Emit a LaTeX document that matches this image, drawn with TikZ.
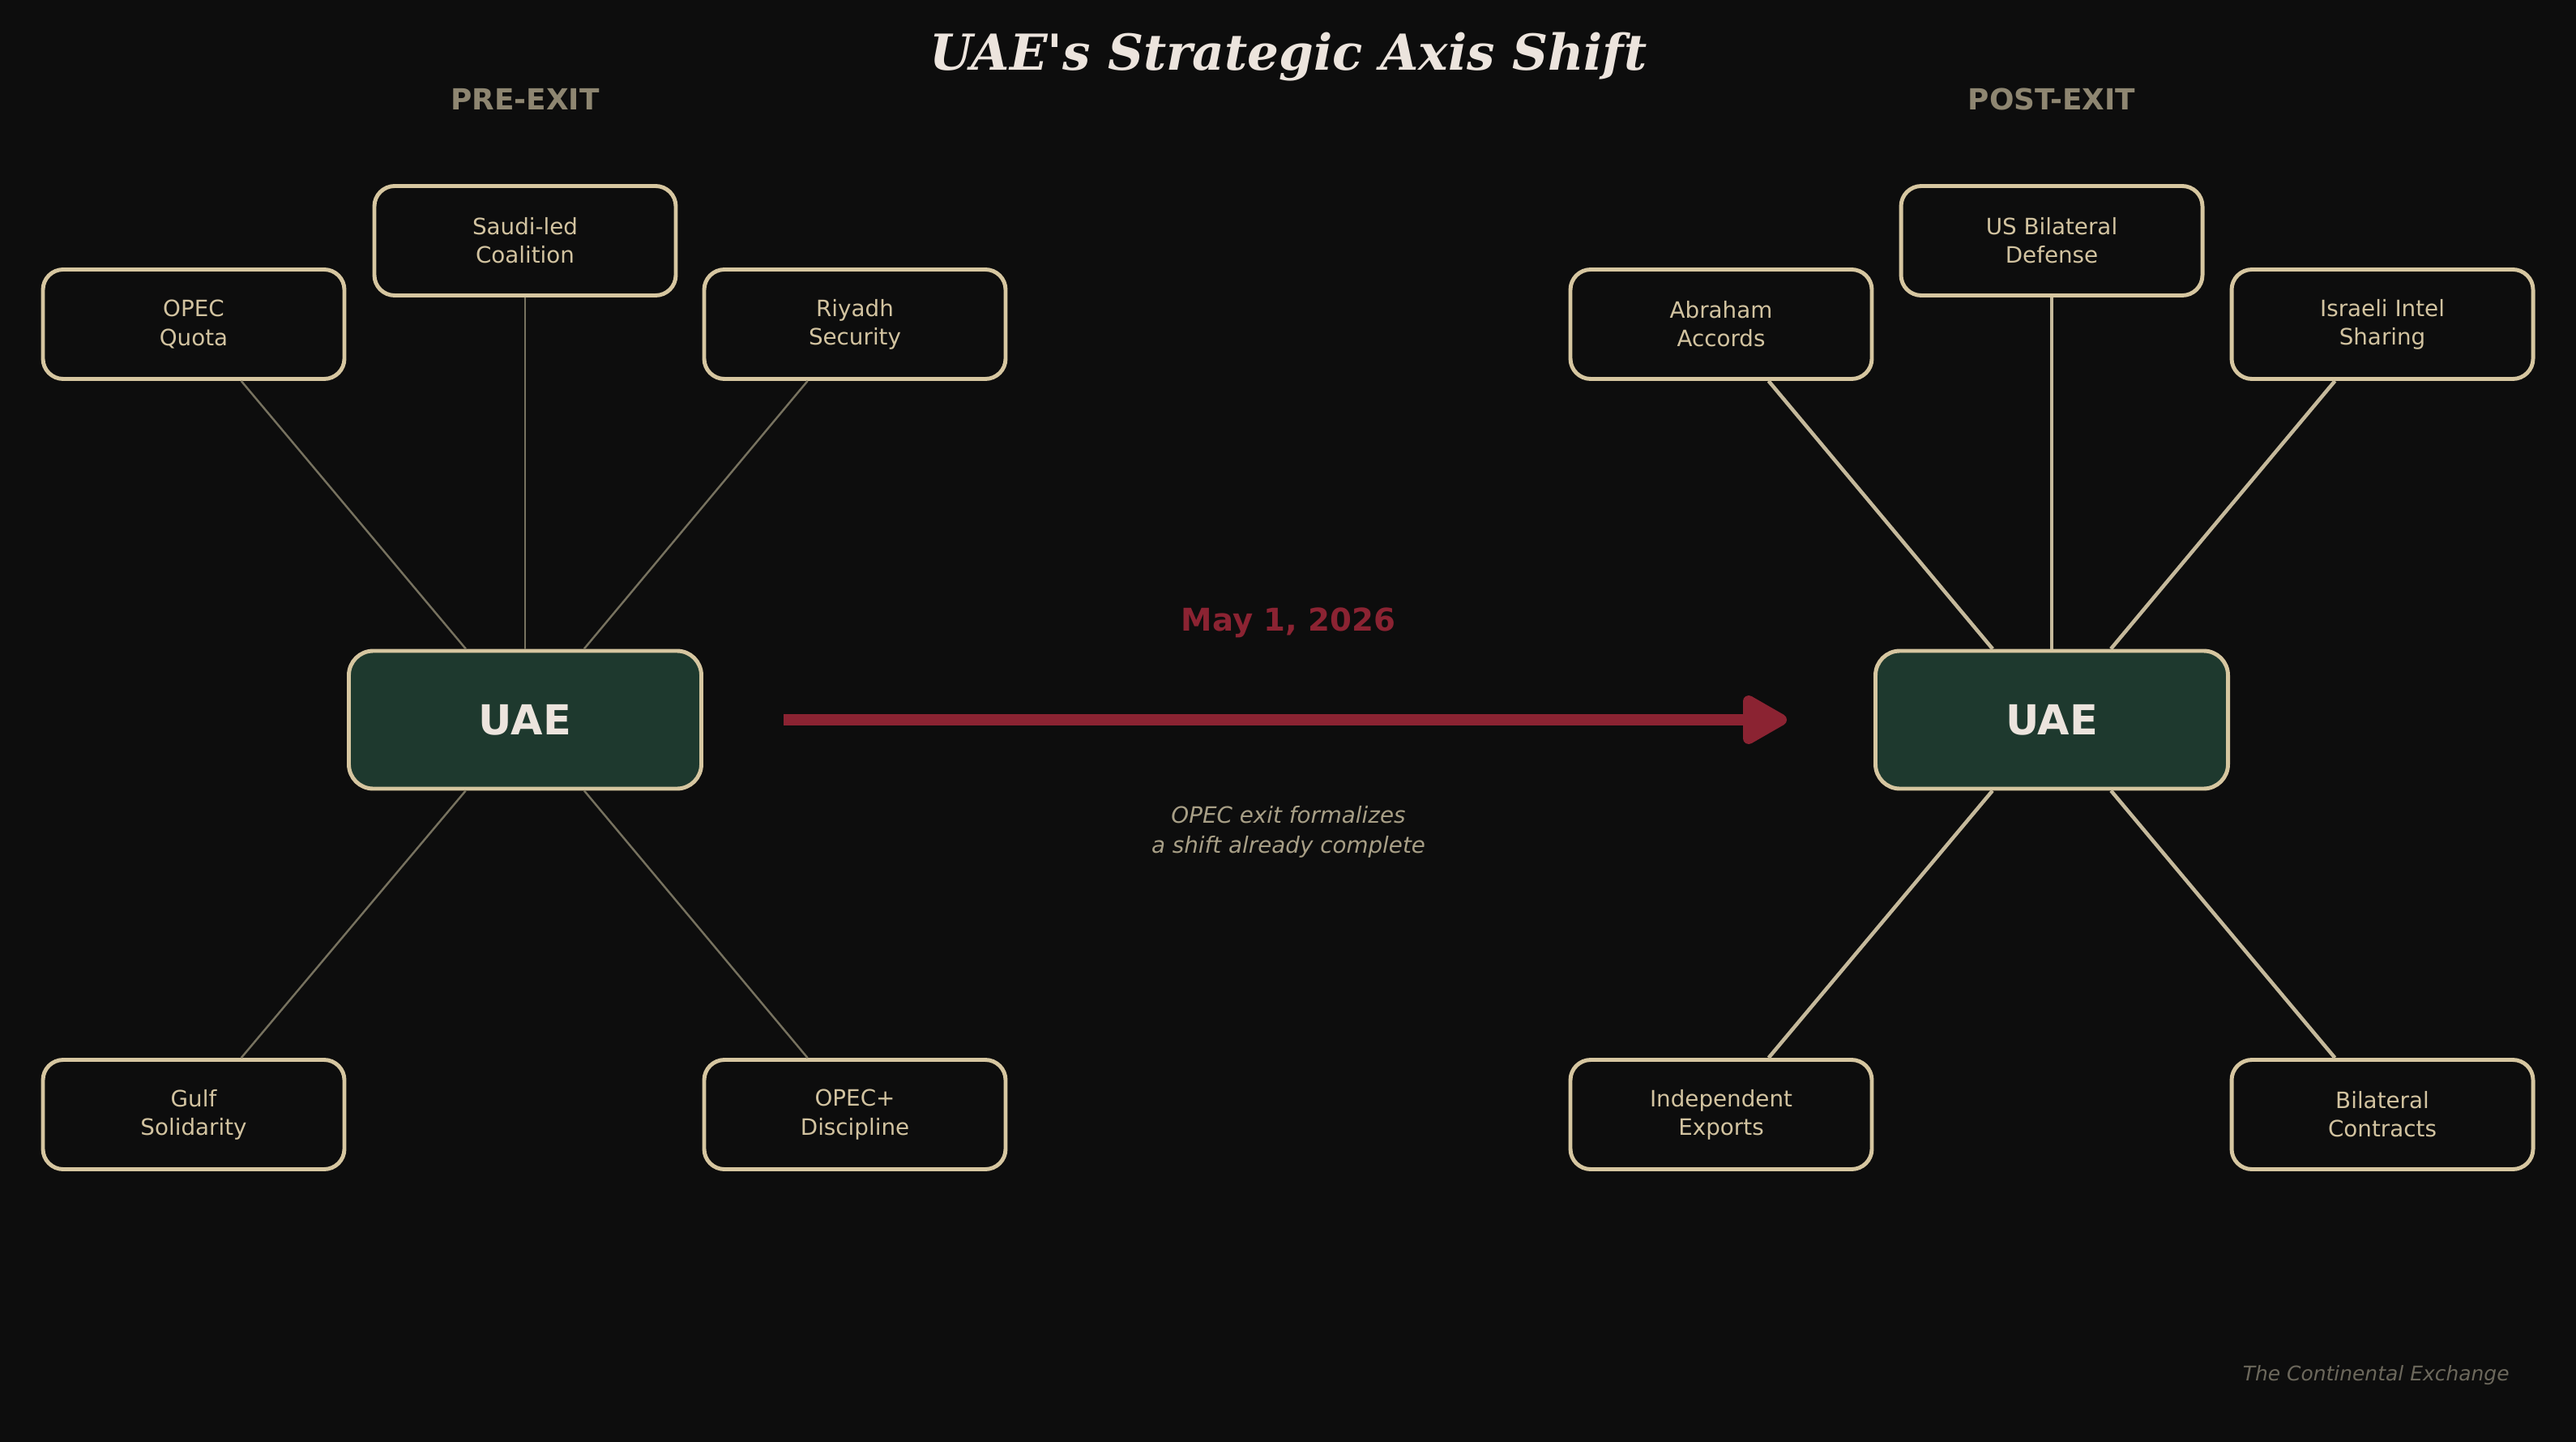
\documentclass[tikz,border=0pt]{standalone}
\usepackage{fontspec}
\setmainfont{DejaVu Sans}
\newfontfamily\titlefont{DejaVu Serif}
\usetikzlibrary{arrows.meta,positioning}
\definecolor{axbg}{HTML}{0D0D0D}
\definecolor{axtan}{HTML}{D6C6A0}
\definecolor{axtext}{HTML}{D2C3A0}
\definecolor{axhead}{HTML}{8E8671}
\definecolor{axgrey}{HTML}{77725F}
\definecolor{axline}{HTML}{C5B99B}
\definecolor{axgreen}{HTML}{1E392E}
\definecolor{axwhite}{HTML}{ECE4DD}
\definecolor{axred}{HTML}{8B2332}
\definecolor{axnote}{HTML}{A89F86}
\definecolor{axfoot}{HTML}{6C685C}

\begin{document}
\begin{tikzpicture}[
  factor/.style={rectangle,rounded corners=0.25cm,draw=axtan,line width=1.4pt,fill=axbg,
    minimum width=3.72cm,minimum height=1.35cm,align=center,text=axtext,
    font=\fontsize{7.9}{10}\selectfont},
  hub/.style={rectangle,rounded corners=0.3cm,draw=axtan,line width=1.4pt,fill=axgreen,
    minimum width=4.35cm,minimum height=1.7cm,text=axwhite,font=\fontsize{14.5}{17}\selectfont\bfseries},
  phase/.style={text=axhead,font=\fontsize{10.2}{12}\selectfont\bfseries},
  oldtie/.style={axgrey,line width=0.7pt},
  newtie/.style={axline,line width=1.3pt},
  flow/.style={axred,line width=4pt,-{Triangle[length=6.2mm,width=6.6mm,round]}}]
  \fill[axbg] (0,0) rectangle (31.79,-17.79);
  \useasboundingbox (0,0) rectangle (31.79,-17.79);
  \node[text=axwhite,font=\titlefont\fontsize{17.4}{20}\selectfont\bfseries\itshape] (title) at (15.9,-0.70) {UAE's Strategic Axis Shift};
  % before the exit
  \node[phase] (pre) at (6.48,-1.22) {PRE-EXIT};
  \node[hub] (uaeL) at (6.48,-8.88) {UAE};
  \node[factor] (saudi) at (6.48,-2.97) {Saudi-led\\Coalition};
  \node[factor] (quota) at (2.39,-4.00) {OPEC\\Quota};
  \node[factor] (riyadh) at (10.55,-4.00) {Riyadh\\Security};
  \node[factor] (gulf) at (2.39,-13.75) {Gulf\\Solidarity};
  \node[factor] (plus) at (10.55,-13.75) {OPEC+\\Discipline};
  \draw[oldtie] (quota) -- (uaeL); \draw[oldtie] (saudi) -- (uaeL); \draw[oldtie] (riyadh) -- (uaeL);
  \draw[oldtie] (gulf) -- (uaeL);  \draw[oldtie] (plus) -- (uaeL);
  % after the exit
  \node[phase] (post) at (25.32,-1.22) {POST-EXIT};
  \node[hub] (uaeR) at (25.32,-8.88) {UAE};
  \node[factor] (usdef) at (25.32,-2.97) {US Bilateral\\Defense};
  \node[factor] (abraham) at (21.24,-4.00) {Abraham\\Accords};
  \node[factor] (intel) at (29.40,-4.00) {Israeli Intel\\Sharing};
  \node[factor] (exports) at (21.24,-13.75) {Independent\\Exports};
  \node[factor] (contracts) at (29.40,-13.75) {Bilateral\\Contracts};
  \draw[newtie] (abraham) -- (uaeR); \draw[newtie] (usdef) -- (uaeR); \draw[newtie] (intel) -- (uaeR);
  \draw[newtie] (exports) -- (uaeR); \draw[newtie] (contracts) -- (uaeR);
  % transition
  \draw[flow,shorten <=0.99cm,shorten >=1.07cm] (uaeL) -- (uaeR);
  \node[text=axred,font=\fontsize{11}{13}\selectfont\bfseries] (date) at (15.9,-7.68) {May 1, 2026};
  \node[text=axnote,align=center,font=\fontsize{7.9}{10.5}\selectfont\itshape] (note) at (15.9,-10.26) {OPEC exit formalizes\\a shift already complete};
  \node[text=axfoot,anchor=east,font=\fontsize{7.1}{9}\selectfont\itshape] (credit) at (31.09,-16.97) {The Continental Exchange};
\end{tikzpicture}
\end{document}
